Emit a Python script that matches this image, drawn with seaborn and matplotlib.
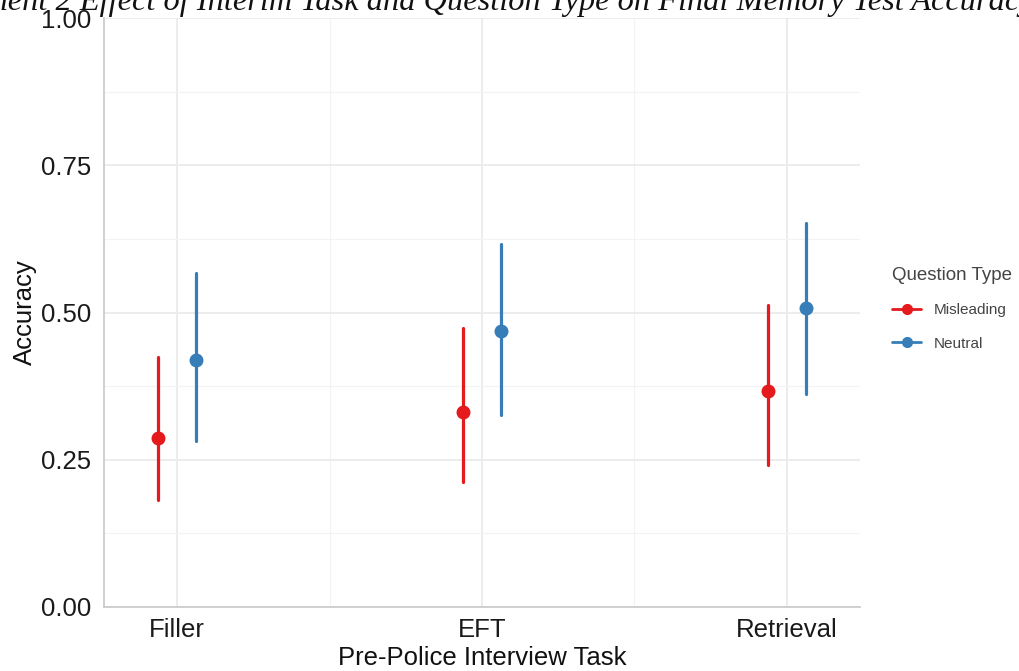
import matplotlib
matplotlib.use("Agg")
import matplotlib.pyplot as plt
from matplotlib.lines import Line2D
import pandas as pd
import seaborn as sns
import numpy as np

# values
tasks = ["Filler", "EFT", "Retrieval"]
qtypes = ["Misleading", "Neutral"]
mis_mean = [0.287, 0.331, 0.366]
mis_lo = [0.181, 0.212, 0.241]
mis_hi = [0.424, 0.474, 0.513]
neu_mean = [0.419, 0.469, 0.508]
neu_lo = [0.282, 0.326, 0.362]
neu_hi = [0.567, 0.617, 0.652]
colors = ["#E41A1C", "#377EB8"]

# long table: lo / mean / hi per cell, median = mean, min/max = CI
rows = []
for q, m, lo, hi in [("Misleading", mis_mean, mis_lo, mis_hi),
                     ("Neutral", neu_mean, neu_lo, neu_hi)]:
    for i, t in enumerate(tasks):
        for v in (lo[i], m[i], hi[i]):
            rows.append({"Task": t, "Question Type": q, "Accuracy": v})
data = pd.DataFrame(rows)

sns.set_theme(style="whitegrid")
plt.rcParams["font.family"] = ["Liberation Sans", "DejaVu Sans"]

fig = plt.figure(figsize=(10.19, 6.71), dpi=100)
ax = fig.add_axes([104 / 1019, 1 - 607 / 671, (860 - 104) / 1019, (607 - 18) / 671])

sns.pointplot(data=data, x="Task", y="Accuracy", hue="Question Type",
              order=tasks, hue_order=qtypes, palette=colors,
              estimator=np.median, errorbar=lambda x: (x.min(), x.max()),
              dodge=0.125, linestyle="none", markers="o", markersize=8,
              err_kws={"linewidth": 2.3}, legend=False, ax=ax)

ax.set_xlim(-0.24, 2.24)
ax.set_ylim(0, 1)
ax.set_yticks([0, 0.25, 0.5, 0.75, 1.0])
ax.set_yticklabels(["0.00", "0.25", "0.50", "0.75", "1.00"])
ax.set_yticks([0.125, 0.375, 0.625, 0.875], minor=True)
ax.set_xticks([0.5, 1.5], minor=True)
ax.grid(True, which="major", color="#ebebeb", linewidth=1.3)
ax.grid(True, which="minor", color="#f3f3f3", linewidth=0.8)
ax.set_axisbelow(True)
ax.tick_params(axis="both", which="both", length=0, labelsize=18.5,
               labelcolor="#1a1a1a")
ax.tick_params(axis="x", pad=8)
ax.tick_params(axis="y", pad=9)
for side in ["top", "right"]:
    ax.spines[side].set_visible(False)
for side in ["left", "bottom"]:
    ax.spines[side].set_visible(True)
    ax.spines[side].set_color("#c8c8c8")
    ax.spines[side].set_linewidth(1.2)

ax.set_xlabel("Pre-Police Interview Task", fontsize=18.5, color="#111111",
              labelpad=3)
ax.set_ylabel("Accuracy", fontsize=18.5, color="#111111", labelpad=3)

handles = [Line2D([0], [0], color=c, marker="o", markersize=7, linewidth=2)
           for c in colors]
leg = fig.legend(handles, qtypes, title="Question Type", loc="center left",
                 bbox_to_anchor=(0.862, 1 - 309 / 671), frameon=False,
                 fontsize=11, title_fontsize=13.5, handlelength=1.9,
                 labelspacing=1.25, alignment="left")
for t in leg.get_texts():
    t.set_color("#444444")
leg.get_title().set_color("#444444")

# title, clipped by the top and sides of the image as in the source
fig.text(-102 / 1019, 1 - 10 / 671,
         "Experiment 2 Effect of Interim Task and Question Type on Final Memory Test Accuracy",
         family=["Liberation Serif", "DejaVu Serif"], style="italic",
         fontsize=23.3, ha="left", va="baseline", color="#111111")

fig.savefig("out.png", dpi=100)
